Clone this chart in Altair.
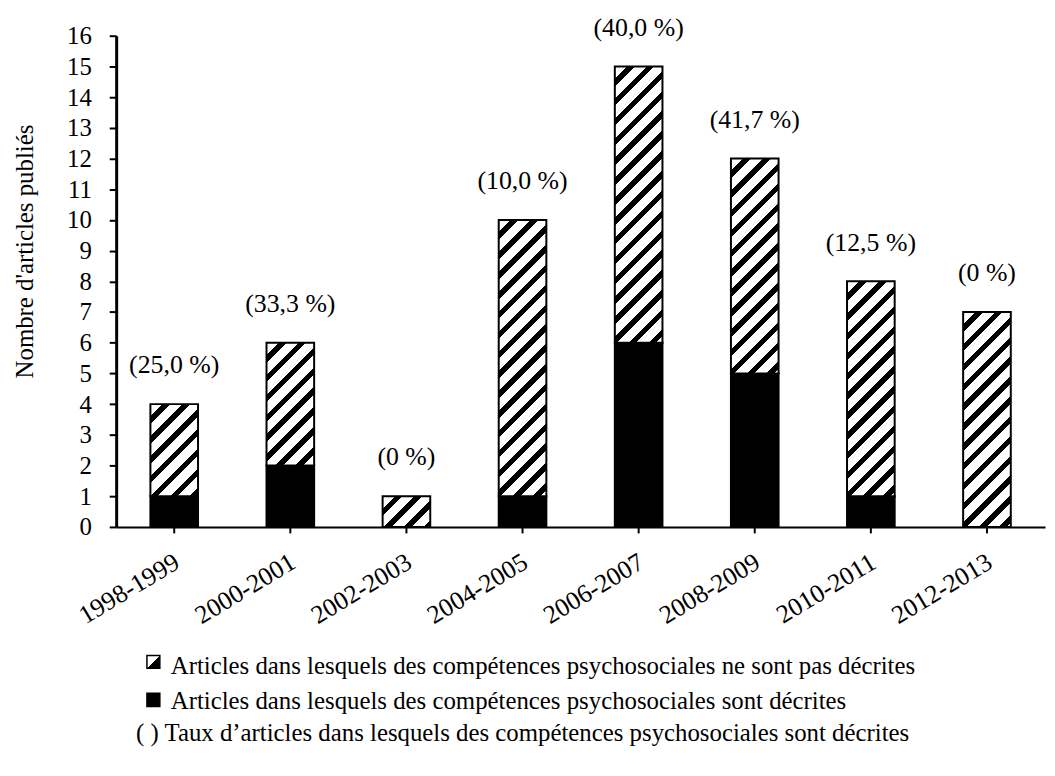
import altair as alt
import pandas as pd

# ---------------- data ----------------
periods = ["1998-1999", "2000-2001", "2002-2003", "2004-2005",
           "2006-2007", "2008-2009", "2010-2011", "2012-2013"]
totals = [4, 6, 1, 10, 15, 12, 8, 7]
described = [1, 2, 0, 1, 6, 5, 1, 0]
rates = ["(25,0 %)", "(33,3 %)", "(0 %)", "(10,0 %)",
         "(40,0 %)", "(41,7 %)", "(12,5 %)", "(0 %)"]
y_ticks = list(range(0, 17))
legend_labels = [
    "Articles dans lesquels des compétences psychosociales ne sont pas décrites",
    "Articles dans lesquels des compétences psychosociales sont décrites",
    "( ) Taux d\u2019articles dans lesquels des compétences psychosociales sont décrites",
]

df = pd.DataFrame({"period": periods, "total": totals,
                   "described": described, "rate": rates})

# ---------------- layout / style ----------------
W_PLOT, H_PLOT, YMAX = 936, 495, 16
BAR_W = 48
PX_PER_UNIT = H_PLOT / YMAX
FONT = "Liberation Serif"
STRIPE_PERIOD = 20.0   # along x+y (pixels)
BLACK_FRAC = 0.38
LEG_SIZE = 25


def hatch_gradient(h):
    """Linear gradient giving 45deg '/' stripes on a bar of width BAR_W and height h px."""
    L = BAR_W + h
    s = L / (BAR_W ** 2 + h ** 2)
    p = STRIPE_PERIOD / L
    stops = []
    k = 0
    while k * p < 1:
        a = k * p
        b = min(1.0, a + p * (1 - BLACK_FRAC))
        c = min(1.0, (k + 1) * p)
        stops += [{"offset": round(a, 5), "color": "white"},
                  {"offset": round(b, 5), "color": "white"},
                  {"offset": round(b, 5), "color": "black"},
                  {"offset": round(c, 5), "color": "black"}]
        k += 1
    return {"gradient": "linear", "x1": 0, "y1": 0,
            "x2": round(s * BAR_W, 6), "y2": round(s * h, 6), "stops": stops}


x_enc = alt.X(
    "period:N", sort=periods,
    scale=alt.Scale(paddingInner=0.5, paddingOuter=0.25),
    axis=alt.Axis(title=None, labelAngle=-31, labelAlign="right",
                  labelBaseline="middle", labelPadding=27, labelOffset=3,
                  labelFont=FONT, labelFontSize=26, labelColor="black",
                  domainColor="black", domainWidth=2,
                  tickColor="black", tickWidth=2, tickSize=6,
                  labelOverlap=False),
)
y_scale = alt.Scale(domain=[0, YMAX], nice=False)
y_axis = alt.Axis(values=y_ticks, grid=False, labelFont=FONT, labelFontSize=25,
                  labelColor="black", labelPadding=18, tickSize=7, tickWidth=2,
                  tickColor="black", domainColor="black", domainWidth=3,
                  title="Nombre d'articles publiés", titleFont=FONT,
                  titleFontSize=25, titleFontWeight="normal", titleColor="black",
                  titleAngle=270, titleX=-84, titleY=217, titleAlign="center",
                  titleBaseline="alphabetic")

base = alt.Chart(df)

black_bars = base.transform_filter(alt.datum.described > 0).mark_bar(
    width=BAR_W, fill="black", stroke="black", strokeWidth=2
).encode(x=x_enc, y=alt.Y("described:Q", scale=y_scale, axis=y_axis))

hatch_layers = []
for per, tot, des in zip(periods, totals, described):
    h = (tot - des) * PX_PER_UNIT
    hatch_layers.append(
        base.transform_filter(alt.datum.period == per).mark_bar(
            width=BAR_W, fill=hatch_gradient(h), stroke="black", strokeWidth=2
        ).encode(x=x_enc, y=alt.Y("described:Q", scale=y_scale, axis=y_axis),
                 y2="total:Q")
    )

rate_text = base.mark_text(dy=-39, font=FONT, fontSize=26, baseline="middle",
                           color="black").encode(
    x=x_enc, y=alt.Y("total:Q", scale=y_scale, axis=y_axis), text="rate:N")

# ---------------- legend (below the plot) ----------------
leg_df = [pd.DataFrame({"label": [lab]}) for lab in legend_labels]
leg_text1 = alt.Chart(leg_df[0]).mark_text(font=FONT, fontSize=LEG_SIZE, align="left",
                                           baseline="alphabetic", color="black").encode(
    x=alt.value(55), y=alt.value(643), text="label:N")
leg_text2 = alt.Chart(leg_df[1]).mark_text(font=FONT, fontSize=LEG_SIZE, align="left",
                                           baseline="alphabetic", color="black").encode(
    x=alt.value(55), y=alt.value(678), text="label:N")
leg_text3 = alt.Chart(leg_df[2]).mark_text(font=FONT, fontSize=LEG_SIZE, align="left",
                                           baseline="alphabetic", color="black").encode(
    x=alt.value(20), y=alt.value(711), text="label:N")

icon_grad = {"gradient": "linear", "x1": 0, "y1": 0, "x2": 1, "y2": 1,
             "stops": [{"offset": 0, "color": "white"}, {"offset": 0.52, "color": "white"},
                       {"offset": 0.52, "color": "black"}, {"offset": 1, "color": "black"}]}
icon1 = alt.Chart(leg_df[0]).mark_rect(fill=icon_grad, stroke="black", strokeWidth=1.5).encode(
    x=alt.value(31), x2=alt.value(44), y=alt.value(624.5), y2=alt.value(637.5))
icon2 = alt.Chart(leg_df[1]).mark_rect(fill="black", stroke="black", strokeWidth=1.5).encode(
    x=alt.value(31), x2=alt.value(44), y=alt.value(662.5), y2=alt.value(676))

chart = alt.layer(
    black_bars, *hatch_layers, rate_text,
    leg_text1, leg_text2, leg_text3, icon1, icon2
).properties(
    width=W_PLOT, height=H_PLOT,
    autosize=alt.AutoSizeParams(type="none"),
    padding={"left": 109, "top": 25, "right": 2, "bottom": 240},
    background="white",
).configure_view(stroke=None)

chart.save("out.html", embed_options={"renderer": "svg", "actions": False})
